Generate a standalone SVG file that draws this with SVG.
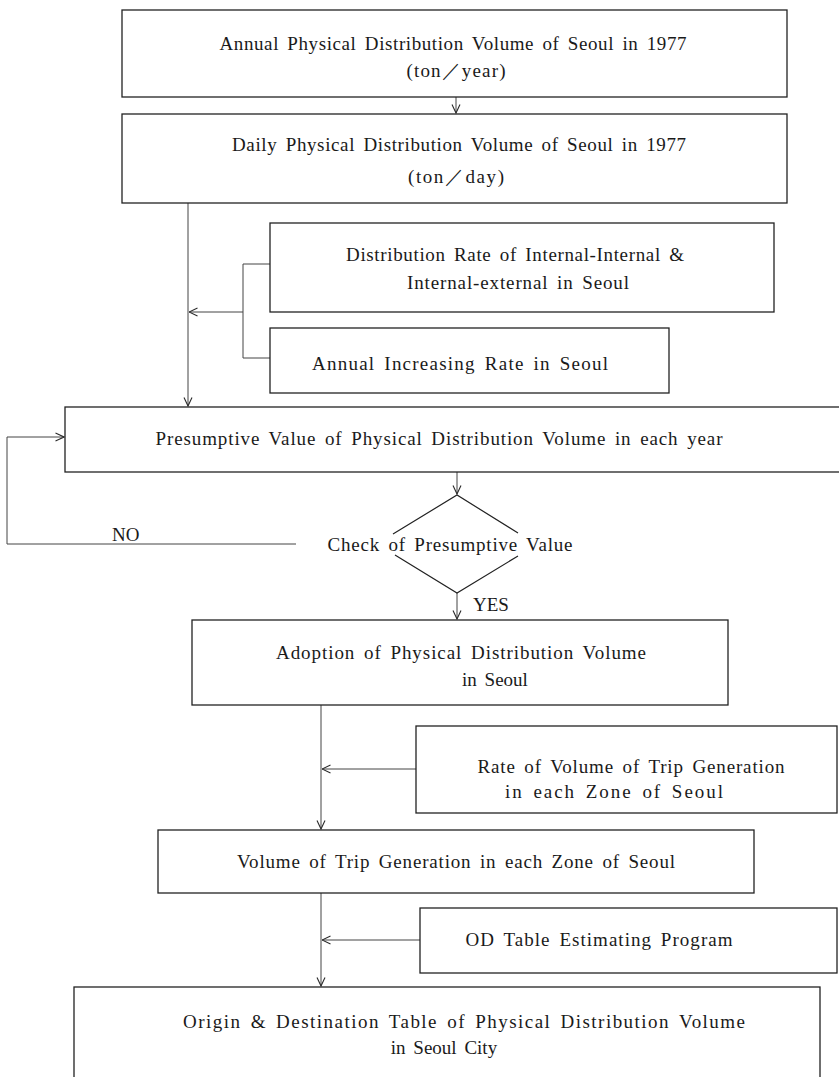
<svg xmlns="http://www.w3.org/2000/svg" width="839" height="1077" viewBox="0 0 839 1077">
  <style>
    .box { fill: #ffffff; stroke: #222222; stroke-width: 1.3; }
    .lbl { font-family: "Liberation Serif", "Times New Roman", "DejaVu Serif", serif; font-size: 19px; fill: #1a1a1a; text-anchor: middle; word-spacing: 3px; }
    .lbl-s { font-family: "Liberation Serif", "Times New Roman", "DejaVu Serif", serif; font-size: 19px; fill: #1a1a1a; }
    .wire { fill: none; stroke: #444444; stroke-width: 1; }
    .head { fill: none; stroke: #2a2a2a; stroke-width: 1.1; }
    .diamond { fill: none; stroke: #222222; stroke-width: 1.2; }
  </style>
  <defs>
    <marker id="openArrow" viewBox="0 0 10 10" refX="9.5" refY="5" markerWidth="10" markerHeight="10" markerUnits="userSpaceOnUse" orient="auto">
      <path class="head" d="M1,1 L9.5,5 L1,9"/>
    </marker>
  </defs>
  <rect width="839" height="1077" fill="#ffffff"/>

  <!-- connectors -->
  <g id="connectors">
    <line class="wire" x1="456" y1="97" x2="456" y2="113" marker-end="url(#openArrow)"/>
    <line class="wire" x1="188" y1="203" x2="188" y2="406" marker-end="url(#openArrow)"/>
    <polyline class="wire" points="270,264 243,264 243,358 270,358"/>
    <line class="wire" x1="243" y1="312" x2="189" y2="312" marker-end="url(#openArrow)"/>
    <line class="wire" x1="457" y1="472" x2="457" y2="494" marker-end="url(#openArrow)"/>
    <polyline class="wire" points="296,544 7,544 7,437 64,437" marker-end="url(#openArrow)"/>
    <line class="wire" x1="457" y1="593" x2="457" y2="619" marker-end="url(#openArrow)"/>
    <line class="wire" x1="321" y1="705" x2="321" y2="829" marker-end="url(#openArrow)"/>
    <line class="wire" x1="416" y1="769" x2="322" y2="769" marker-end="url(#openArrow)"/>
    <line class="wire" x1="321" y1="893" x2="321" y2="986" marker-end="url(#openArrow)"/>
    <line class="wire" x1="420" y1="940" x2="322" y2="940" marker-end="url(#openArrow)"/>
  </g>

  <g id="annual-volume">
    <rect class="box" x="122" y="10" width="665" height="87"/>
    <text class="lbl" x="453" y="50" textLength="467">Annual Physical Distribution Volume of Seoul in 1977</text>
    <text class="lbl" x="456" y="77" textLength="99">(ton／year)</text>
  </g>

  <g id="daily-volume">
    <rect class="box" x="122" y="114" width="665" height="89"/>
    <text class="lbl" x="459" y="151" textLength="454">Daily Physical Distribution Volume of Seoul in 1977</text>
    <text class="lbl" x="456" y="183" textLength="96">(ton／day)</text>
  </g>

  <g id="distribution-rate">
    <rect class="box" x="270" y="223" width="504" height="89"/>
    <text class="lbl" x="515" y="261" textLength="338">Distribution Rate of Internal-Internal &amp;</text>
    <text class="lbl" x="518" y="289" textLength="222">Internal-external in Seoul</text>
  </g>

  <g id="increasing-rate">
    <rect class="box" x="270" y="328" width="399" height="65"/>
    <text class="lbl" x="460" y="370" textLength="296">Annual Increasing Rate in Seoul</text>
  </g>

  <g id="presumptive-value">
    <rect class="box" x="65" y="407" width="790" height="65"/>
    <text class="lbl" x="439" y="445" textLength="567">Presumptive Value of Physical Distribution Volume in each year</text>
  </g>

  <g id="check-decision">
    <path class="diamond" d="M393,534 L457,495 L518,533 M395,555 L457,593 L518,556"/>
    <text class="lbl" x="450" y="551" textLength="245">Check of Presumptive Value</text>
    <text class="lbl-s" x="112" y="541">NO</text>
    <text class="lbl-s" x="473" y="611">YES</text>
  </g>

  <g id="adoption">
    <rect class="box" x="192" y="620" width="536" height="85"/>
    <text class="lbl" x="461" y="659" textLength="370">Adoption of Physical Distribution Volume</text>
    <text class="lbl" x="495" y="686">in Seoul</text>
  </g>

  <g id="trip-rate">
    <rect class="box" x="416" y="726" width="421" height="87"/>
    <text class="lbl" x="631" y="773" textLength="307">Rate of Volume of Trip Generation</text>
    <text class="lbl" x="614" y="798" textLength="218">in each Zone of Seoul</text>
  </g>

  <g id="trip-generation">
    <rect class="box" x="158" y="830" width="596" height="63"/>
    <text class="lbl" x="456" y="868" textLength="438">Volume of Trip Generation in each Zone of Seoul</text>
  </g>

  <g id="od-program">
    <rect class="box" x="420" y="908" width="417" height="65"/>
    <text class="lbl" x="599" y="946" textLength="267">OD Table Estimating Program</text>
  </g>

  <g id="od-table">
    <rect class="box" x="74" y="987" width="746" height="110"/>
    <text class="lbl" x="464" y="1028" textLength="562">Origin &amp; Destination Table of Physical Distribution Volume</text>
    <text class="lbl" x="444" y="1054">in Seoul City</text>
  </g>
</svg>
